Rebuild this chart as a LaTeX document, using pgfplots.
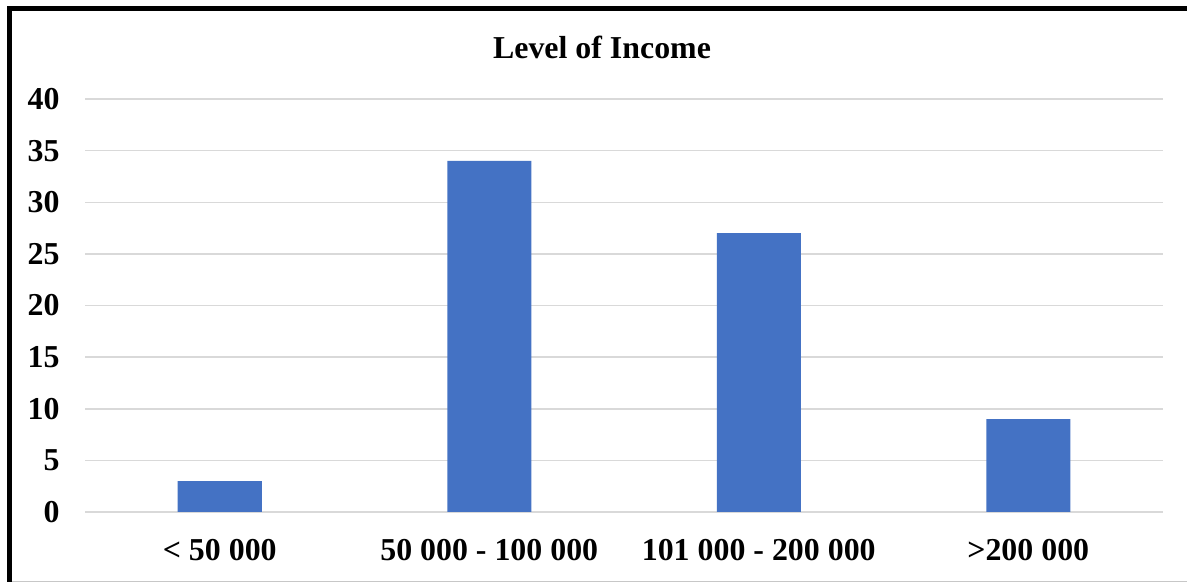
\documentclass[border=0pt]{standalone}
\usepackage{pgfplots}
\pgfplotsset{compat=1.18}
\usepackage{fontspec}
\setmainfont{Liberation Serif}
\definecolor{barblue}{HTML}{4472C4}
\definecolor{gridgray}{HTML}{D9D9D9}
\begin{document}
\begin{tikzpicture}
% page is 1187 x 582 reference pixels, 0.5bp each
\useasboundingbox (0bp,0bp) rectangle (593.5bp,291bp);
\fill[white] (0bp,0bp) rectangle (593.5bp,291bp);
\draw[gridgray!80!gray, line width=0.75bp] (4.75bp,0.3bp) -- (593.5bp,0.3bp);
\draw[black, line width=2.5bp] (4.75bp,0bp) -- (4.75bp,286.75bp) -- (593.5bp,286.75bp);
\begin{axis}[
    at={(42.5bp,35bp)}, anchor=south west,
    scale only axis, width=539bp, height=206.5bp,
    ybar, bar width=42bp,
    xmin=-0.5, xmax=3.5,
    ymin=0, ymax=40,
    ytick={0,5,...,40},
    xtick=data,
    xticklabels={{< 50 000},{50 000 - 100 000},{101 000 - 200 000},{>200 000}},
    ymajorgrids,
    grid style={gridgray, line width=0.75bp},
    axis line style={draw=none},
    tick style={draw=none},
    ticklabel style={font=\fontsize{16}{19}\selectfont\bfseries},
    /pgf/number format/assume math mode=true,
    yticklabel style={anchor=east, inner sep=0pt, xshift=-12.5bp},
    xticklabel style={anchor=base, yshift=-19.75bp},
  ]
  \addplot[fill=barblue, draw=none] coordinates {
    (0,3)
    (1,34)
    (2,27)
    (3,9)
  };
\end{axis}
\node[font=\fontsize{16}{19}\selectfont\bfseries] at (301bp,267.5bp) {Level of Income};
\end{tikzpicture}
\end{document}
